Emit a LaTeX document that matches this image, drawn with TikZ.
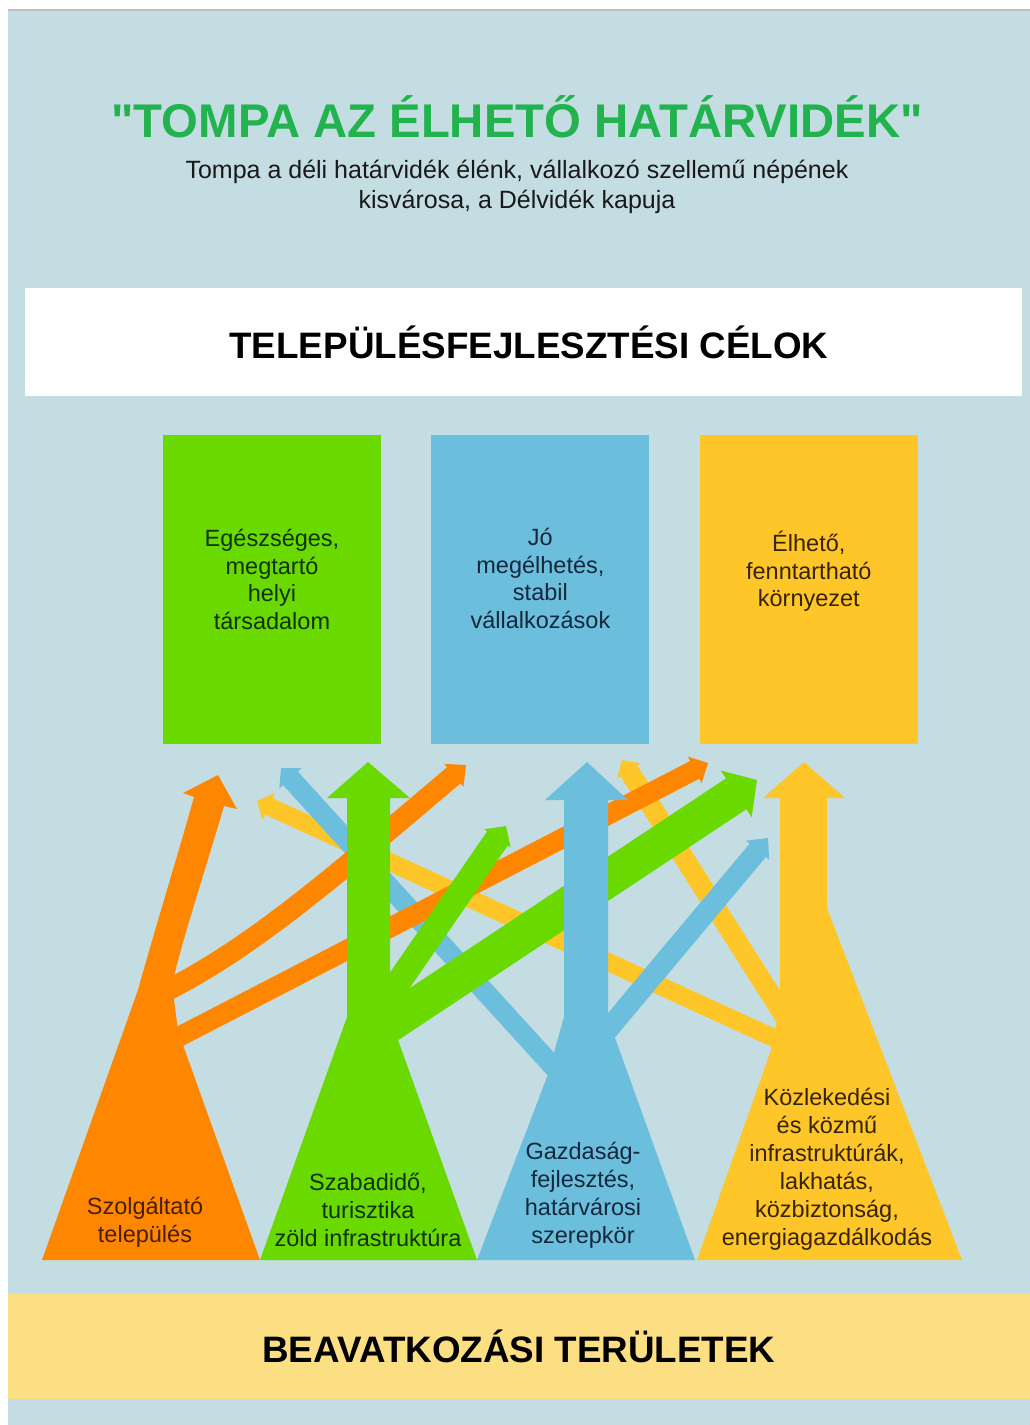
\documentclass[tikz,border=0pt]{standalone}
\usepackage{fontspec}
\setmainfont{Liberation Sans}
\usepackage{tikz}
\usetikzlibrary{
  calc,
  positioning,
}
\definecolor{bgblue}{RGB}{196,221,227}
\definecolor{bandyellow}{RGB}{253,223,131}
\definecolor{titlegreen}{RGB}{34,178,78}
\definecolor{orng}{RGB}{255,135,0}
\definecolor{grn}{RGB}{106,217,0}
\definecolor{blu}{RGB}{108,190,221}
\definecolor{ylw}{RGB}{255,198,42}
\definecolor{txtorng}{RGB}{75,30,0}
\definecolor{txtgrn}{RGB}{15,50,10}
\definecolor{txtblu}{RGB}{20,40,60}
\definecolor{txtylw}{RGB}{55,35,0}

\tikzstyle{goalbox} = [
  rectangle,
  minimum width=218pt,
  minimum height=309pt,
  inner sep=0pt,
]
\tikzstyle{boxtext} = [
  align=center,
  inner sep=0pt,
  font=\fontsize{23.5}{27.5}\selectfont,
]
\tikzstyle{areatext} = [
  align=center,
  inner sep=0pt,
  font=\fontsize{23.5}{28}\selectfont,
]
\tikzstyle{bandtext} = [
  inner sep=0pt,
  text=black,
  font=\bfseries\fontsize{36.8}{44}\selectfont,
]

% straight branch: colour, start, tip, shaft width, half head width, head length
\newcommand{\branch}[6]{
  \coordinate (hb) at ($(#3)!#6!(#2)$);
  \draw[#1, line width=#4] (#2) -- ($(hb)!1pt!(#3)$);
  \fill[#1] ($(hb)!#5!90:(#3)$) -- (#3) -- ($(hb)!#5!-90:(#3)$) -- cycle;
}
% bent branch: colour, start, control 1, control 2, tip, shaft width, half head width, head length
\newcommand{\bentbranch}[8]{
  \coordinate (hb) at ($(#5)!#8!(#4)$);
  \draw[#1, line width=#6] (#2) .. controls (#3) and (#4) .. ($(hb)!1pt!(#5)$);
  \fill[#1] ($(hb)!#7!90:(#5)$) -- (#5) -- ($(hb)!#7!-90:(#5)$) -- cycle;
}

\begin{document}
\begin{tikzpicture}[x=1pt, y=-1pt]
  \useasboundingbox (0,0) rectangle (1030,1425);
  \fill[white] (0,0) rectangle (1030,1425);
  \fill[bgblue] (8,10) rectangle (1030,1425);
  \draw[black!25, line width=2pt] (8,10) -- (1030,10);

  % header
  \node[text=titlegreen, font=\bfseries\fontsize{47.3}{56}\selectfont] (title) at (517,117)
    {\textquotedbl TOMPA AZ ÉLHETŐ HATÁRVIDÉK\textquotedbl};
  \node[align=center, text=black!90, font=\fontsize{25}{30}\selectfont] (motto) at (517,187)
    {Tompa a déli határvidék élénk, vállalkozó szellemű népének\\kisvárosa, a Délvidék kapuja};
  \node[bandtext, fill=white, minimum width=997pt, minimum height=108pt] (celok) at (523.5,342)
    {\hspace{11pt}TELEPÜLÉSFEJLESZTÉSI CÉLOK};

  % goals
  \node[goalbox, fill=grn] (cel1) at (272,589.5) {};
  \node[goalbox, fill=blu, right=50pt of cel1] (cel2) {};
  \node[goalbox, fill=ylw, right=50pt of cel2] (cel3) {};
  \node[boxtext, text=txtgrn] (cel1txt) at ($(cel1)+(0,-10)$) {Egészséges,\\megtartó\\helyi\\társadalom};
  \node[boxtext, text=txtblu] (cel2txt) at ($(cel2)+(0,-11)$) {Jó\\megélhetés,\\stabil\\vállalkozások};
  \node[boxtext, text=txtylw] (cel3txt) at ($(cel3)+(0,-18)$) {Élhető,\\fenntartható\\környezet};

  % branches
  \branch{ylw}{800,1050}{257,801}{18pt}{15pt}{13pt}
  \branch{ylw}{790,1025}{622,760}{20pt}{14pt}{13pt}
  \branch{blu}{580,1096}{281,768}{20pt}{15pt}{14pt}
  \branch{blu}{590,1051}{768,838}{21pt}{15pt}{16pt}
  \bentbranch{orng}{158,995}{250,950}{330,880}{466,765}{21pt}{15pt}{16pt}
  \branch{orng}{163,1045}{708,763}{20pt}{15pt}{15pt}
  \branch{grn}{378,1012}{506,826}{25pt}{16pt}{15pt}
  \branch{grn}{380,1030}{757,780}{37pt}{28pt}{25pt}

  % trunks
  \fill[orng] (42,1260) -- (138,990) .. controls (156,925) and (180,848) .. (194,797)
    -- (183,793) -- (218,775) -- (237,809) -- (224,806)
    .. controls (206,868) and (182,940) .. (172,985) -- (178,1030) -- (183,1045) -- (260,1260) -- cycle;
  \fill[grn] (260,1260) -- (347,1017) -- (347,798) -- (327,798) -- (368,762) -- (410,798)
    -- (390,798) -- (390,985) -- (398,1040) -- (477,1260) -- cycle;
  \fill[blu] (477,1260) -- (547,1077) -- (564,1017) -- (564,800) -- (545,800) -- (587,762)
    -- (628,800) -- (608,800) -- (608,1013) -- (614,1035) -- (695,1260) -- cycle;
  \fill[ylw] (697,1260) -- (771,1050) -- (780,1005) -- (780,798) -- (763,798) -- (804,762)
    -- (845,798) -- (827,798) -- (827,908) -- (962,1260) -- cycle;

  % areas
  \node[areatext, text=txtorng] (szolg) at (145,1222) {Szolgáltató\\település};
  \node[areatext, text=txtgrn] (szabad) at (368,1210) {Szabadidő,\\turisztika\\zöld infrastruktúra};
  \node[areatext, text=txtblu] (gazd) at (583,1195) {Gazdaság-\\fejlesztés,\\határvárosi\\szerepkör};
  \node[areatext, text=txtylw] (kozl) at (827,1169)
    {Közlekedési\\és közmű\\infrastruktúrák,\\lakhatás,\\közbiztonság,\\energiagazdálkodás};

  \node[bandtext, fill=bandyellow, minimum width=1022pt, minimum height=105pt] (teruletek) at (519,1346)
    {BEAVATKOZÁSI TERÜLETEK\hspace{11pt}};
\end{tikzpicture}
\end{document}
